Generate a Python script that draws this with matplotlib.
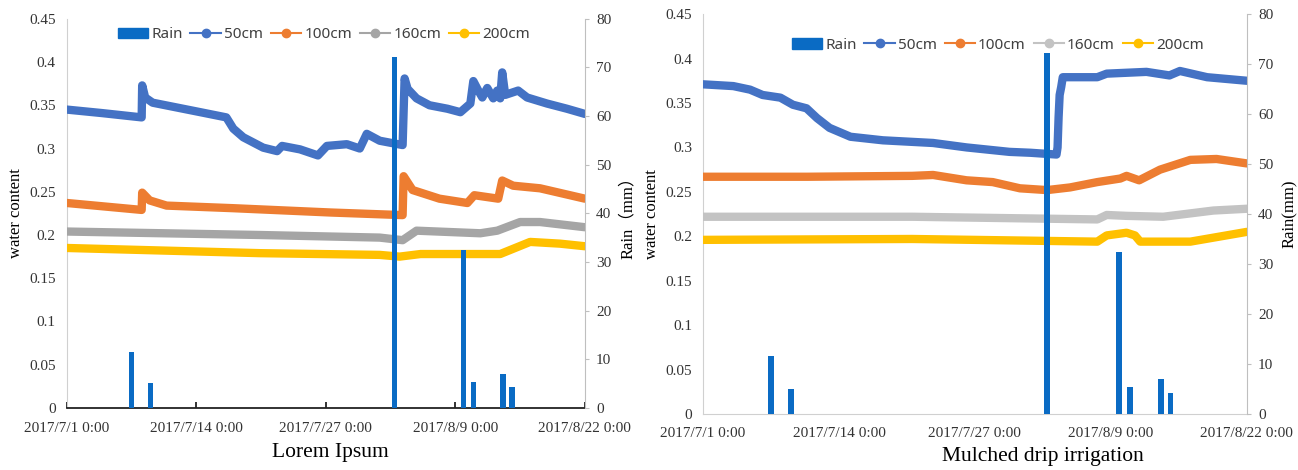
import numpy as np
import pandas as pd
import matplotlib
matplotlib.use("Agg")
import matplotlib.pyplot as plt
import matplotlib.dates as mdates
from matplotlib.lines import Line2D
from matplotlib.patches import Patch
from matplotlib.ticker import FuncFormatter, MultipleLocator

start = pd.Timestamp("2017-07-01")
end = pd.Timestamp("2017-08-22")
tick_days = [0, 13, 26, 39, 52]

# rain events (days after 2017/7/1 0:00, mm)
rain_days = [6.5, 8.4, 32.9, 39.8, 40.8, 43.8, 44.7]
rain_mm = [11.6, 5.1, 72.2, 32.4, 5.4, 7.0, 4.3]

# ---- panel 1 : Lorem Ipsum ----
a50_days = [0, 3.5, 7.5, 7.55, 7.85, 8.6, 13.4, 16.0, 16.7, 17.7, 19.7, 21.1, 21.6,
            23.4, 25.2, 26.1, 28.1, 29.4, 30.1, 31.4, 33.7, 33.9, 34.2, 35.1, 36.4,
            38.2, 39.5, 40.5, 40.8, 41.3, 41.7, 42.2, 42.8, 43.2, 43.5, 43.7, 44.0,
            45.3, 46.2, 48.2, 50.2, 52]
a50 = [0.345, 0.341, 0.336, 0.373, 0.359, 0.353, 0.342, 0.336, 0.323, 0.313, 0.301,
       0.297, 0.303, 0.299, 0.292, 0.303, 0.305, 0.300, 0.317, 0.309, 0.304, 0.381,
       0.369, 0.358, 0.350, 0.346, 0.342, 0.352, 0.378, 0.367, 0.359, 0.370, 0.358,
       0.367, 0.358, 0.388, 0.362, 0.367, 0.359, 0.352, 0.346, 0.340]
a100_days = [0, 7.5, 7.55, 8.3, 10, 16.7, 26.5, 33.7, 33.8, 34.7, 37.4, 40.2, 40.9,
             43.3, 43.7, 44.8, 47.5, 52]
a100 = [0.237, 0.229, 0.249, 0.240, 0.234, 0.231, 0.226, 0.223, 0.268, 0.252, 0.242,
        0.237, 0.246, 0.242, 0.263, 0.257, 0.254, 0.242]
a160_days = [0, 19.4, 31.4, 33.7, 35.1, 41.5, 43.2, 45.5, 47.5, 52]
a160 = [0.204, 0.200, 0.197, 0.194, 0.205, 0.202, 0.205, 0.215, 0.215, 0.209]
a200_days = [0, 19.4, 31.4, 33.4, 35.5, 43.5, 46.5, 49.5, 52]
a200 = [0.185, 0.179, 0.177, 0.175, 0.178, 0.178, 0.192, 0.190, 0.187]

# ---- panel 2 : Mulched drip irrigation ----
b50_days = [0, 2.9, 4.5, 5.7, 7.4, 8.6, 9.9, 10.9, 12.1, 14.1, 17.2, 22.0, 25.2, 29.3,
            31.3, 33.8, 33.9, 34.0, 34.1, 34.25, 34.4, 37.7, 38.6, 42.4, 44.6, 45.6,
            48.2, 52]
b50 = [0.371, 0.369, 0.365, 0.359, 0.356, 0.348, 0.344, 0.333, 0.322, 0.312, 0.308,
       0.305, 0.300, 0.295, 0.294, 0.292, 0.300, 0.334, 0.359, 0.368, 0.379, 0.379,
       0.383, 0.385, 0.381, 0.386, 0.379, 0.375]
b100_days = [0, 10, 20, 22.0, 25.2, 27.7, 30.3, 32.9, 35.1, 37.7, 39.9, 40.5, 41.7,
             43.7, 46.6, 49.1, 52]
b100 = [0.267, 0.267, 0.268, 0.269, 0.263, 0.261, 0.254, 0.252, 0.255, 0.261, 0.265,
        0.268, 0.263, 0.275, 0.286, 0.287, 0.282]
b160_days = [0, 20, 37.7, 38.6, 40.5, 44.0, 48.8, 52]
b160 = [0.222, 0.222, 0.219, 0.224, 0.223, 0.222, 0.229, 0.231]
b200_days = [0, 20, 37.7, 38.6, 40.5, 41.3, 41.8, 46.6, 52]
b200 = [0.196, 0.197, 0.194, 0.201, 0.204, 0.201, 0.194, 0.194, 0.205]

series_names = ["50cm", "100cm", "160cm", "200cm"]
rain_color = "#0a6bc4"
colors_a = ["#4472c4", "#ed7d31", "#a5a5a5", "#ffc000"]
colors_b = ["#4472c4", "#ed7d31", "#c3c3c3", "#ffc000"]


def to_dates(days):
    return start + pd.to_timedelta(np.asarray(days), unit="D")


def date_label(x, pos=None):
    d = mdates.num2date(x)
    return f"{d.year}/{d.month}/{d.day} 0:00"


serif = "Liberation Serif"
sans = "Noto Sans"

fig = plt.figure(figsize=(12.98, 4.70), dpi=100)
ax1 = fig.add_axes([0.0516, 0.132, 0.399, 0.828])
ax3 = fig.add_axes([0.5416, 0.119, 0.419, 0.851])

panels = [
    (ax1, [a50_days, a100_days, a160_days, a200_days], [a50, a100, a160, a200],
     colors_a, "Rain（mm）", (0.496, 0.959), True),
    (ax3, [b50_days, b100_days, b160_days, b200_days], [b50, b100, b160, b200],
     colors_b, "Rain(mm)", (0.542, 0.922), False),
]

for ax, days_list, vals_list, cols, rlabel, leg_pos, dark_bottom in panels:
    for d, v, c in zip(days_list, vals_list, cols):
        ax.plot(to_dates(d), v, color=c, lw=6,
                solid_capstyle="round", solid_joinstyle="round", zorder=3)
    ax.set_xlim(start, end)
    ax.set_ylim(0, 0.45)
    ax.yaxis.set_major_locator(MultipleLocator(0.05))
    ax.yaxis.set_major_formatter(FuncFormatter(lambda v, p: f"{v:g}"))
    ax.set_xticks(to_dates(tick_days))
    ax.xaxis.set_major_formatter(FuncFormatter(date_label))
    for s in ["top", "right"]:
        ax.spines[s].set_visible(False)
    ax.spines["left"].set_color("#d0d0d0")
    ax.tick_params(axis="y", length=0, pad=8, labelsize=11, labelcolor="#333333")
    if dark_bottom:
        ax.spines["bottom"].set_color("#222222")
        ax.spines["bottom"].set_linewidth(1.3)
        ax.tick_params(axis="x", direction="in", length=4, width=1.3, color="#222222",
                       pad=10, labelsize=11, labelcolor="#333333")
    else:
        ax.spines["bottom"].set_color("#d0d0d0")
        ax.tick_params(axis="x", length=0, pad=9, labelsize=11, labelcolor="#333333")
    for lab in ax.get_xticklabels() + ax.get_yticklabels():
        lab.set_fontfamily(serif)
    ax.set_ylabel("water content", fontfamily=serif, fontsize=12, labelpad=4)

    ax2 = ax.twinx()
    ax2.bar(to_dates(rain_days), rain_mm, width=0.55, color=rain_color, zorder=4)
    ax2.set_ylim(0, 80)
    ax2.yaxis.set_major_locator(MultipleLocator(10))
    for s in ["top", "left", "bottom"]:
        ax2.spines[s].set_visible(False)
    ax2.spines["right"].set_color("#bfbfbf")
    ax2.tick_params(axis="y", length=3, color="#bfbfbf", pad=5, labelsize=11,
                    labelcolor="#333333")
    for lab in ax2.get_yticklabels():
        lab.set_fontfamily(serif)
    ax2.set_ylabel(rlabel, fontfamily=[serif, "Noto Sans CJK SC"], fontsize=12, labelpad=6)

    handles = [Patch(color=rain_color)]
    for c in cols:
        handles.append(Line2D([], [], color=c, lw=1.5, marker="o", ms=6))
    ax2.legend(handles, ["Rain"] + series_names, loc="center", bbox_to_anchor=leg_pos,
               ncol=5, frameon=False, handlelength=2.0, handletextpad=0.2,
               columnspacing=0.5, prop={"family": sans, "size": 11},
               labelcolor="#404040")

fig.text(330 / 1298, 1 - 452 / 470, "Lorem Ipsum", ha="center", va="center",
         fontfamily=serif, fontsize=15.5)
fig.text(1043 / 1298, 1 - 456 / 470, "Mulched drip irrigation", ha="center",
         va="center", fontfamily=serif, fontsize=15.5)

fig.savefig("out.png", dpi=100, facecolor="white")
